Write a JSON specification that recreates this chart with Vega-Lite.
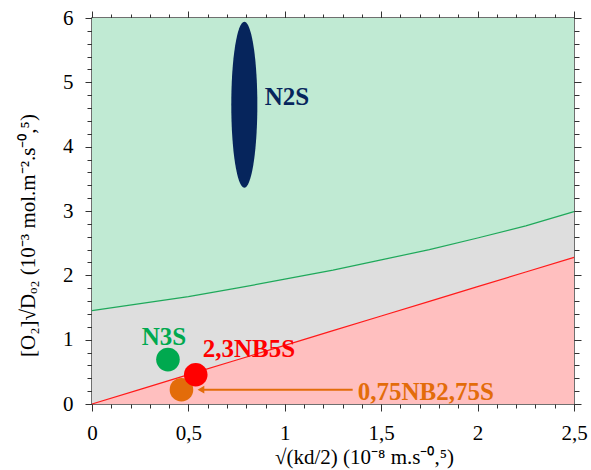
{
  "$schema": "https://vega.github.io/schema/vega-lite/v6.json",
  "width": 482,
  "height": 386,
  "autosize": {"type": "none"},
  "padding": {"left": 92, "top": 18, "right": 17, "bottom": 66},
  "background": "white",
  "config": {
    "view": {"stroke": "#404040", "strokeWidth": 1.5},
    "axis": {
      "grid": false,
      "domain": false,
      "tickColor": "#333333",
      "tickWidth": 1,
      "labelFont": "Liberation Serif",
      "labelFontSize": 21,
      "labelColor": "#000000",
      "titleFont": "Liberation Serif",
      "titleFontWeight": "normal",
      "titleColor": "#000000"
    }
  },
  "datasets": {
    "bands": [
      {"x": 0, "g": 1.45, "r": 0},
      {"x": 0.25, "g": 1.56, "r": 0.228},
      {"x": 0.5, "g": 1.67, "r": 0.456},
      {"x": 0.75, "g": 1.8, "r": 0.684},
      {"x": 1.0, "g": 1.94, "r": 0.912},
      {"x": 1.25, "g": 2.08, "r": 1.14},
      {"x": 1.5, "g": 2.24, "r": 1.368},
      {"x": 1.75, "g": 2.4, "r": 1.596},
      {"x": 2.0, "g": 2.58, "r": 1.824},
      {"x": 2.25, "g": 2.77, "r": 2.052},
      {"x": 2.5, "g": 2.99, "r": 2.28}
    ],
    "samples": [
      {"name": "N3S", "x": 0.394, "y": 0.69},
      {"name": "0,75NB2,75S", "x": 0.464, "y": 0.222},
      {"name": "2,3NB5S", "x": 0.538, "y": 0.455}
    ],
    "ellipse": [
      {"name": "N2S", "x": 0.79, "y": 4.65}
    ],
    "labels": [
      {"name": "N2S", "x": 0.896, "y": 4.65},
      {"name": "N3S", "x": 0.258, "y": 0.92},
      {"name": "2,3NB5S", "x": 0.574, "y": 0.735},
      {"name": "0,75NB2,75S", "x": 1.378, "y": 0.06}
    ],
    "arrow": [
      {"x": 0.565, "x2": 1.352, "y": 0.222}
    ]
  },
  "resolve": {"axis": {"x": "independent", "y": "independent"}},
  "layer": [
    {
      "data": {"name": "bands"},
      "mark": {"type": "area", "color": "#c0ead3", "opacity": 1},
      "encoding": {
        "x": {
          "field": "x", "type": "quantitative",
          "scale": {"domain": [0, 2.5], "nice": false, "zero": false},
          "axis": {
            "orient": "bottom",
            "values": [0, 0.5, 1, 1.5, 2, 2.5],
            "format": "~g",
            "tickSize": 7,
            "labelPadding": 11,
            "labelExpr": "replace(datum.label, '.', ',')",
            "labelFlush": false,
            "title": "√(kd/2) (10⁻⁸ m.s⁻⁰,⁵)",
            "titleFontSize": 21,
            "titleX": 272,
            "titleY": 59,
            "titleBaseline": "alphabetic"
          }
        },
        "y": {
          "field": "g", "type": "quantitative",
          "scale": {"domain": [0, 6], "nice": false, "zero": false},
          "axis": {
            "orient": "left",
            "values": [0, 1, 2, 3, 4, 5, 6],
            "format": "~g",
            "tickSize": 7,
            "labelPadding": 12,
            "title": "[O₂]√Dₒ₂ (10⁻³ mol.m⁻².s⁻⁰,⁵)",
            "titleFontSize": 21,
            "titleX": -64,
            "titleY": 217,
            "titleAngle": -90,
            "titleAlign": "center",
            "titleBaseline": "middle"
          }
        },
        "y2": {"datum": 6}
      }
    },
    {
      "data": {"name": "bands"},
      "mark": {"type": "area", "color": "#dedede", "opacity": 1},
      "encoding": {
        "x": {
          "field": "x", "type": "quantitative",
          "axis": {
            "orient": "bottom",
            "values": [0, 0.1, 0.2, 0.3, 0.4, 0.5, 0.6, 0.7, 0.8, 0.9, 1, 1.1, 1.2, 1.3, 1.4, 1.5, 1.6, 1.7, 1.8, 1.9, 2, 2.1, 2.2, 2.3, 2.4, 2.5],
            "tickSize": 4,
            "labels": false,
            "title": null
          }
        },
        "y": {
          "field": "r", "type": "quantitative",
          "axis": {
            "orient": "left",
            "values": [0, 0.2, 0.4, 0.6, 0.8, 1, 1.2, 1.4, 1.6, 1.8, 2, 2.2, 2.4, 2.6, 2.8, 3, 3.2, 3.4, 3.6, 3.8, 4, 4.2, 4.4, 4.6, 4.8, 5, 5.2, 5.4, 5.6, 5.8, 6],
            "tickSize": 5,
            "labels": false,
            "title": null
          }
        },
        "y2": {"field": "g"}
      }
    },
    {
      "data": {"name": "bands"},
      "mark": {"type": "area", "color": "#ffbfbf", "opacity": 1},
      "encoding": {
        "x": {
          "field": "x", "type": "quantitative",
          "axis": {
            "orient": "top",
            "values": [0, 0.5, 1, 1.5, 2, 2.5],
            "tickSize": 7,
            "labels": false,
            "title": null
          }
        },
        "y": {
          "field": "r", "type": "quantitative",
          "axis": {
            "orient": "right",
            "values": [0, 1, 2, 3, 4, 5, 6],
            "tickSize": 7,
            "labels": false,
            "title": null
          }
        },
        "y2": {"datum": 0}
      }
    },
    {
      "data": {"name": "bands"},
      "mark": {"type": "line", "color": "#1ea85a", "strokeWidth": 1.2},
      "encoding": {
        "x": {
          "field": "x", "type": "quantitative",
          "axis": {
            "orient": "top",
            "values": [0, 0.1, 0.2, 0.3, 0.4, 0.5, 0.6, 0.7, 0.8, 0.9, 1, 1.1, 1.2, 1.3, 1.4, 1.5, 1.6, 1.7, 1.8, 1.9, 2, 2.1, 2.2, 2.3, 2.4, 2.5],
            "tickSize": 4,
            "labels": false,
            "title": null
          }
        },
        "y": {
          "field": "g", "type": "quantitative",
          "axis": {
            "orient": "right",
            "values": [0, 0.2, 0.4, 0.6, 0.8, 1, 1.2, 1.4, 1.6, 1.8, 2, 2.2, 2.4, 2.6, 2.8, 3, 3.2, 3.4, 3.6, 3.8, 4, 4.2, 4.4, 4.6, 4.8, 5, 5.2, 5.4, 5.6, 5.8, 6],
            "tickSize": 5,
            "labels": false,
            "title": null
          }
        }
      }
    },
    {
      "data": {"name": "bands"},
      "mark": {"type": "line", "color": "#ff1a1a", "strokeWidth": 1.2},
      "encoding": {
        "x": {"field": "x", "type": "quantitative", "axis": null},
        "y": {"field": "r", "type": "quantitative", "axis": null}
      }
    },
    {
      "data": {"name": "ellipse"},
      "mark": {
        "type": "point",
        "filled": true,
        "opacity": 1,
        "shape": "M0,-1C0.0867,-1,0.157,-0.5523,0.157,0C0.157,0.5523,0.0867,1,0,1C-0.0867,1,-0.157,0.5523,-0.157,0C-0.157,-0.5523,-0.0867,-1,0,-1Z",
        "size": 27556,
        "color": "#06255c"
      },
      "encoding": {
        "x": {"field": "x", "type": "quantitative", "axis": null},
        "y": {"field": "y", "type": "quantitative", "axis": null}
      }
    },
    {
      "data": {"name": "arrow"},
      "mark": {"type": "rule", "color": "#e36c0a", "strokeWidth": 2},
      "encoding": {
        "x": {"field": "x", "type": "quantitative", "axis": null},
        "x2": {"field": "x2"},
        "y": {"field": "y", "type": "quantitative", "axis": null}
      }
    },
    {
      "data": {"name": "arrow"},
      "mark": {"type": "point", "shape": "triangle-left", "filled": true, "opacity": 1, "size": 60, "color": "#e36c0a"},
      "encoding": {
        "x": {"field": "x", "type": "quantitative", "axis": null},
        "y": {"field": "y", "type": "quantitative", "axis": null}
      }
    },
    {
      "data": {"name": "samples"},
      "mark": {"type": "circle", "opacity": 1, "size": 557},
      "encoding": {
        "x": {"field": "x", "type": "quantitative", "axis": null},
        "y": {"field": "y", "type": "quantitative", "axis": null},
        "color": {
          "field": "name", "type": "nominal",
          "scale": {"domain": ["N2S", "N3S", "2,3NB5S", "0,75NB2,75S"], "range": ["#06255c", "#00a94f", "#ff0000", "#e36c0a"]},
          "legend": null
        }
      }
    },
    {
      "data": {"name": "labels"},
      "mark": {"type": "text", "align": "left", "baseline": "alphabetic", "font": "Liberation Serif", "fontWeight": "bold", "fontSize": 25},
      "encoding": {
        "x": {"field": "x", "type": "quantitative", "axis": null},
        "y": {"field": "y", "type": "quantitative", "axis": null},
        "text": {"field": "name"},
        "color": {
          "field": "name", "type": "nominal",
          "scale": {"domain": ["N2S", "N3S", "2,3NB5S", "0,75NB2,75S"], "range": ["#06255c", "#00a94f", "#ff0000", "#e36c0a"]},
          "legend": null
        }
      }
    }
  ]
}
